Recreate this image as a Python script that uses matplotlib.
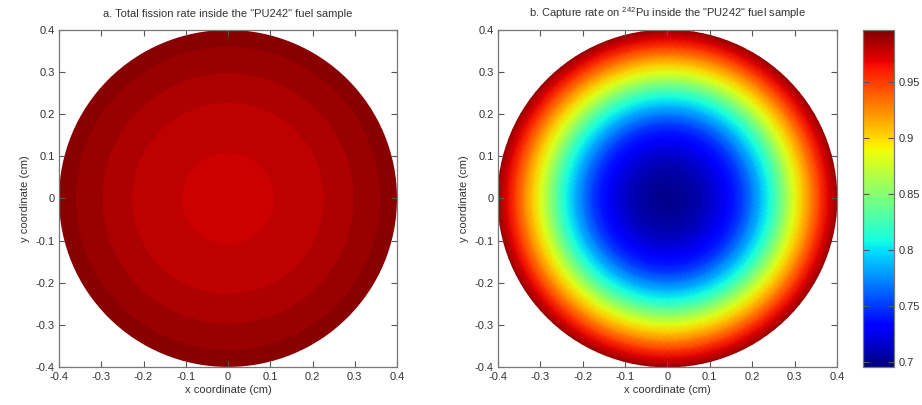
import numpy as np
import matplotlib
matplotlib.use('Agg')
import matplotlib.pyplot as plt
from matplotlib.patches import Circle
from matplotlib.ticker import FuncFormatter

plt.rcParams['font.family'] = ['Liberation Sans', 'DejaVu Sans']
plt.rcParams['mathtext.default'] = 'regular'

# a. total fission rate: outer radius of each ring (cm) and its level (jet scale 0..1)
fission_ring_outer = [0.108, 0.227, 0.297, 0.36, 0.4]
fission_ring_level = [0.930, 0.945, 0.960, 0.975, 0.990]

# b. capture rate on 242Pu: radial profile
capture_r = [0.0, 0.02, 0.04, 0.06, 0.08, 0.10, 0.12, 0.14, 0.16, 0.18, 0.20,
             0.22, 0.24, 0.26, 0.28, 0.30, 0.32, 0.34, 0.36, 0.38, 0.40]
capture_val = [0.700, 0.7006, 0.7025, 0.7056, 0.710, 0.715, 0.722, 0.731, 0.741, 0.754, 0.770,
               0.788, 0.808, 0.831, 0.857, 0.883, 0.906, 0.929, 0.951, 0.971, 0.990]
capture_min, capture_max = 0.696, 0.996

axis_ticks = [-0.4, -0.3, -0.2, -0.1, 0, 0.1, 0.2, 0.3, 0.4]
cbar_ticks = [0.7, 0.75, 0.8, 0.85, 0.9, 0.95]

theta = np.linspace(0, 2 * np.pi, 121)
txt = '#333333'
jet = plt.get_cmap('jet')

fig = plt.figure(figsize=(9.22, 4.05), dpi=100)
ax1 = fig.add_axes([0.064, 0.094, 0.3666, 0.832])
ax2 = fig.add_axes([0.540, 0.094, 0.3677, 0.832])
cax = fig.add_axes([0.936, 0.094, 0.0336, 0.832])

# left panel - flat rings, biggest first
for r, lev in sorted(zip(fission_ring_outer, fission_ring_level), reverse=True):
    ax1.add_patch(Circle((0, 0), r, facecolor=jet(lev), edgecolor='none'))

# right panel - smooth radial gradient
R2, T2 = np.meshgrid(capture_r, theta, indexing='ij')
C2 = np.repeat(np.array(capture_val)[:, None], len(theta), axis=1)
mesh = ax2.pcolormesh(R2 * np.cos(T2), R2 * np.sin(T2), C2, cmap='jet',
                      vmin=capture_min, vmax=capture_max, shading='gouraud')

fmt = FuncFormatter(lambda v, p: '%g' % round(v, 2))
for ax in (ax1, ax2):
    ax.set_xlim(-0.4, 0.4)
    ax.set_ylim(-0.4, 0.4)
    ax.set_xticks(axis_ticks)
    ax.set_yticks(axis_ticks)
    ax.xaxis.set_major_formatter(fmt)
    ax.yaxis.set_major_formatter(fmt)
    ax.tick_params(direction='in', top=True, right=True, length=4, width=0.8,
                   labelsize=8, colors='#555555', labelcolor=txt)
    ax.tick_params(axis='x', pad=4)
    ax.tick_params(axis='y', pad=3)
    for s in ax.spines.values():
        s.set_color('#777777')
        s.set_linewidth(0.9)
        s.set_zorder(3)
    ax.set_xlabel('x coordinate (cm)', fontsize=8, color=txt, labelpad=2)
    ax.set_ylabel('y coordinate (cm)', fontsize=8, color=txt, labelpad=4)

ax1.set_title('a. Total fission rate inside the "PU242" fuel sample',
              fontsize=8, color=txt, pad=9)
ax2.set_title(r'b. Capture rate on $^{242}$Pu inside the "PU242" fuel sample',
              fontsize=8, color=txt, pad=9)

cb = fig.colorbar(mesh, cax=cax, ticks=cbar_ticks)
cb.ax.yaxis.set_major_formatter(fmt)
cb.ax.tick_params(direction='in', left=True, right=True, length=4, width=0.8,
                  labelsize=8, colors='#555555', labelcolor=txt, pad=3)
cb.outline.set_edgecolor('#777777')
cb.outline.set_linewidth(0.9)

fig.savefig('out.png', dpi=100)
